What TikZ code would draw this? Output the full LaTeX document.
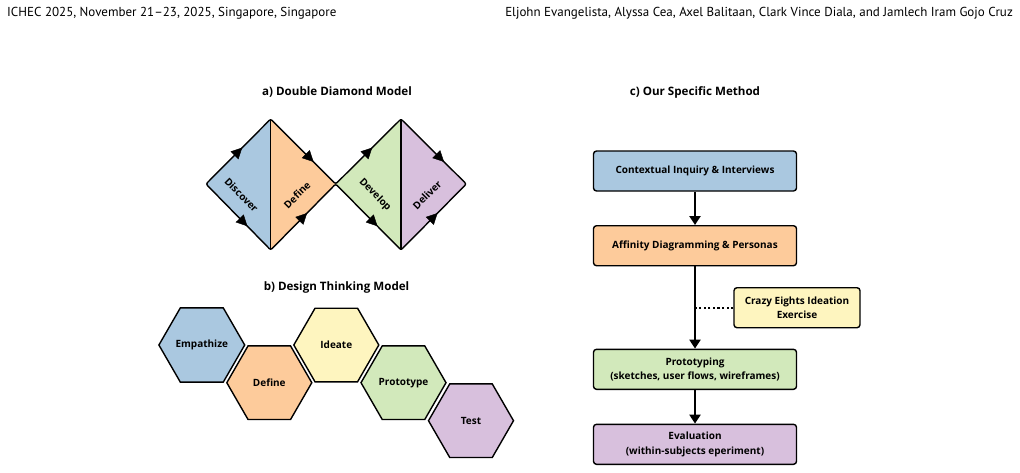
\documentclass[tikz,border=0pt]{standalone}
\usepackage{fontspec}
\setmainfont{Open Sans}
\newfontfamily\hdrfont[Ligatures=TeX]{PT Sans}
\usetikzlibrary{arrows.meta,shapes.geometric,decorations.markings}
\definecolor{cblue}{HTML}{AAC8E0}
\definecolor{corange}{HTML}{FDCB9B}
\definecolor{cgreen}{HTML}{D2E9BB}
\definecolor{cpurple}{HTML}{D8C0DD}
\definecolor{cyellow}{HTML}{FEF5BF}
\tikzset{
  hdr/.style={font=\hdrfont\fontsize{13}{15}\selectfont},
  ttl/.style={font=\bfseries\fontsize{11.6}{13}\selectfont},
  lbl/.style={font=\bfseries\fontsize{10}{12}\selectfont},
  hexa/.style={regular polygon, regular polygon sides=6, minimum size=85pt, inner sep=0pt,
    draw=black, line width=1.4pt, font=\bfseries\fontsize{10}{12}\selectfont},
  outline/.style={draw=black, line width=1.4pt},
  box/.style={rectangle, rounded corners=3pt, draw=black, line width=1.4pt,
    minimum width=203pt, minimum height=40pt, align=center, inner sep=2pt,
    font=\bfseries\fontsize{10}{14.3}\selectfont},
  flow/.style={line width=2.5pt, -{Triangle[length=9pt,width=11pt]}},
  dots/.style={line width=2.2pt, dash pattern=on 2.2pt off 2.4pt},
  mk/.style={decoration={markings, mark=at position #1 with {\arrow{Triangle[length=11pt,width=11pt]}}}, decorate}
}
\begin{document}
\begin{tikzpicture}[x=1pt,y=-1pt]
\useasboundingbox (0,0) rectangle (1020,472);
% header
\node[hdr, anchor=base west, inner sep=0pt] (h1) at (7,16) {ICHEC 2025, November 21--23, 2025, Singapore, Singapore};
\node[hdr, anchor=base east, inner sep=0pt] (h2) at (1013,16) {Eljohn Evangelista, Alyssa Cea, Axel Balitaan, Clark Vince Diala, and Jamlech Iram Gojo Cruz};
% titles
\node[ttl] (ta) at (337,92.5) {a) Double Diamond Model};
\node[ttl] (tb) at (336.5,287.5) {b) Design Thinking Model};
\node[ttl] (tc) at (695,92.5) {c) Our Specific Method};
% double diamond
\coordinate (L1) at (206,184);
\coordinate (T1) at (270.7,119);
\coordinate (B1) at (270.7,250);
\coordinate (M) at (335.7,184);
\coordinate (T2) at (401,119);
\coordinate (B2) at (401,250);
\coordinate (R2) at (466.3,184);
\fill[cblue] (L1)--(T1)--(B1)--cycle;
\fill[corange] (T1)--(M)--(B1)--cycle;
\fill[cgreen] (M)--(T2)--(B2)--cycle;
\fill[cpurple] (T2)--(R2)--(B2)--cycle;
\draw[outline, rounded corners=2pt, line join=round] (L1)--(T1)--(M)--(T2)--(R2)--(B2)--(M)--(B1)--cycle;
\draw[outline] (T1)--(B1);
\draw[outline] (T2)--(B2);
\path[mk=0.56] (L1)--(T1);
\path[mk=0.64] (L1)--(B1);
\path[mk=0.66] (T1)--(M);
\path[mk=0.56] (B1)--(M);
\path[mk=0.56] (M)--(T2);
\path[mk=0.64] (M)--(B2);
\path[mk=0.66] (T2)--(R2);
\path[mk=0.56] (B2)--(R2);
\node[lbl, rotate=-45, inner sep=0pt] (dis) at (241.5,195) {Discover};
\node[lbl, rotate=45, inner sep=0pt] (def) at (297,195) {Define};
\node[lbl, rotate=-45, inner sep=0pt] (dev) at (375,195) {Develop};
\node[lbl, rotate=45, inner sep=0pt] (del) at (427,195) {Deliver};
% hexagons
\node[hexa, fill=cblue] (emp) at (201.8,345) {Empathize};
\node[hexa, fill=corange] (hdef) at (269.3,382.7) {Define};
\node[hexa, fill=cyellow] (ide) at (336.3,345) {Ideate};
\node[hexa, fill=cgreen] (pro) at (403.5,382.7) {Prototype};
\node[hexa, fill=cpurple] (tst) at (471,420.7) {Test};
% method
\node[box, fill=cblue] (c1) at (695,171) {Contextual Inquiry \& Interviews};
\node[box, fill=corange] (c2) at (695,245.7) {Affinity Diagramming \& Personas};
\node[box, fill=cgreen] (c3) at (695,369.3) {Prototyping\\(sketches, user flows, wireframes)};
\node[box, fill=cpurple] (c4) at (695,444.3) {Evaluation\\(within-subjects eperiment)};
\node[box, fill=cyellow, minimum width=126pt] (cz) at (797,307.7) {Crazy Eights Ideation\\Exercise};
\coordinate (j) at (c2.south |- cz.west);
\draw[dots] (cz.west) -- (j);
\draw[flow] (c1) -- (c2);
\draw[flow] (c2) -- (c3);
\draw[flow] (c3) -- (c4);
\end{tikzpicture}
\end{document}
